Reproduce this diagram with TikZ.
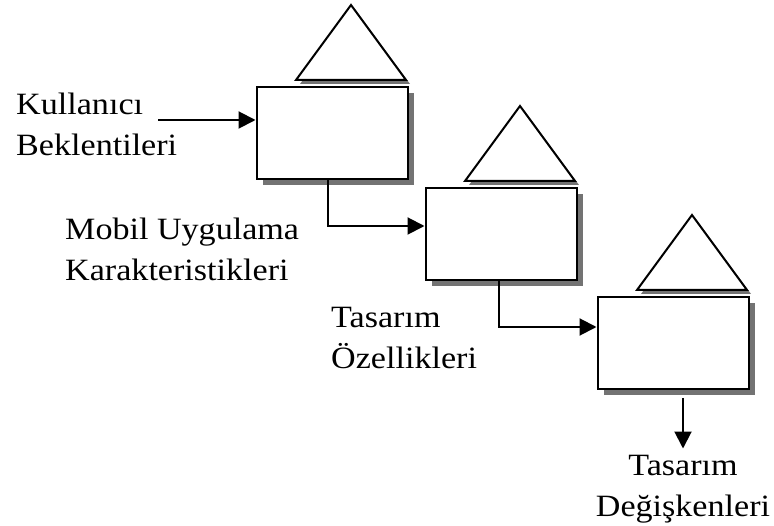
\documentclass[tikz,border=0pt]{standalone}
\usepackage{fontspec}
\setmainfont{Liberation Serif}[FakeStretch=1.1]
\usetikzlibrary{arrows.meta,shadows,calc}

\tikzset{
  box/.style={draw, fill=white, line width=2pt, minimum width=151pt, minimum height=92pt,
    inner sep=0pt, drop shadow={shadow xshift=6pt, shadow yshift=-6pt, fill=black!55, opacity=1}},
  roof/.style={draw, fill=white, line width=2pt,
    drop shadow={shadow xshift=4pt, shadow yshift=-4pt, fill=black!55, opacity=1}},
  lbl/.style={inner sep=0pt, align=left, font=\fontsize{31}{41}\selectfont},
  arr/.style={line width=2pt, -{Triangle[length=17pt,width=17pt]}},
}

\begin{document}
\begin{tikzpicture}[x=1pt,y=-1pt]
        \useasboundingbox (0,0) rectangle (774,526);

        \node[box] (b1) at (332,133) {};
        \node[box] (b2) at (501,234) {};
        \node[box] (b3) at (673,343) {};

        \draw[roof] ($(b1.north)+(-36,-6)$) -- ($(b1.north)+(19,-81)$) -- ($(b1.north)+(74,-6)$) -- cycle;
        \draw[roof] ($(b2.north)+(-36,-6)$) -- ($(b2.north)+(19,-81)$) -- ($(b2.north)+(74,-6)$) -- cycle;
        \draw[roof] ($(b3.north)+(-36,-6)$) -- ($(b3.north)+(19,-81)$) -- ($(b3.north)+(74,-6)$) -- cycle;

        % base anchor sits on the last line
        \node[lbl, anchor=base west] (user) at (16,156) {Kullanıcı\\Beklentileri};
        \node[lbl, anchor=base west] (mobile) at (65,281) {Mobil Uygulama\\Karakteristikleri};
        \node[lbl, anchor=base west] (design) at (331,369) {Tasarım\\Özellikleri};
        \node[lbl, anchor=base, align=center] (vars) at (683,516) {Tasarım\\Değişkenleri};

        \coordinate (in) at (158,120);
        \draw[arr] (in) -- ([yshift=13pt]b1.west);
        \draw[arr] ([xshift=-4pt]b1.south) |- ([yshift=8pt]b2.west);
        \draw[arr] ([xshift=-2pt]b2.south) |- ([yshift=16pt]b3.west);
        \draw[arr] ($(b3.south -| vars.north)+(0,8)$) -- ($(vars.north)+(0,-6)$);
    \end{tikzpicture}
\end{document}
